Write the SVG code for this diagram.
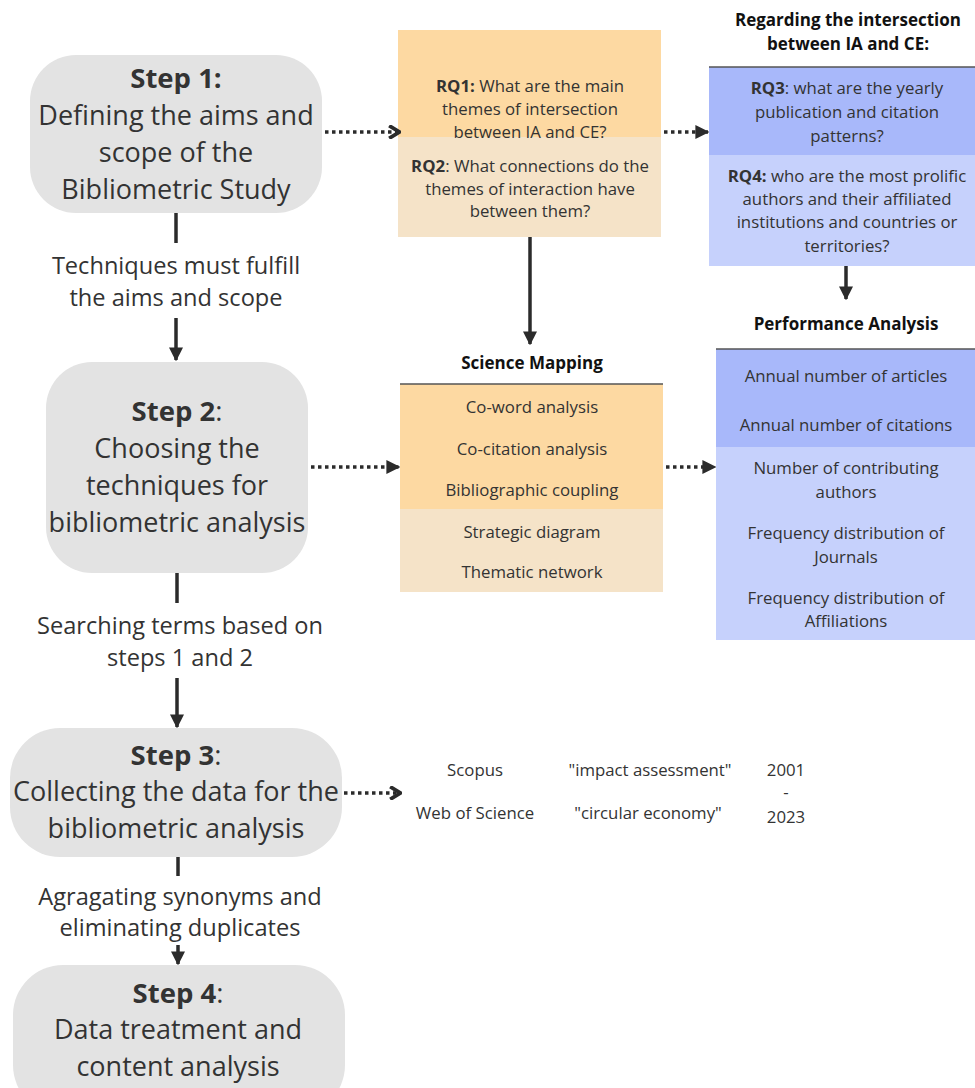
<svg xmlns="http://www.w3.org/2000/svg" width="975" height="1088" viewBox="0 0 975 1088">
  <style>
    text { font-family: "Open Sans", "Liberation Sans", sans-serif; fill: #333333; text-anchor: middle; }
    .step { fill: #e3e3e3; }
    .big { font-size: 27px; }
    .ttl { font-size: 27.5px; }
    .lbl { font-size: 23.6px; }
    .sm { font-size: 16.8px; }
    .hd { font-size: 17px; font-weight: bold; fill: #111111; }
    .b { font-weight: bold; }
    .solid { stroke: #2b2b2b; stroke-width: 3.5; fill: none; }
    .dot { stroke: #2b2b2b; stroke-width: 3.5; fill: none; stroke-dasharray: 3.5 3.5; }
    .rule { stroke: #555555; stroke-width: 1.5; }
  </style>
  <defs>
    <marker id="tri" viewBox="0 0 10 10" refX="9" refY="5" markerWidth="4" markerHeight="4" orient="auto" markerUnits="strokeWidth">
      <path d="M0,0 L10,5 L0,10 z" fill="#2b2b2b"/>
    </marker>
    <marker id="chev" viewBox="0 0 10 10" refX="8" refY="5" markerWidth="3.6" markerHeight="4" orient="auto" markerUnits="strokeWidth">
      <path d="M1,0 L9,5 L1,10" fill="none" stroke="#2b2b2b" stroke-width="3"/>
    </marker>
  </defs>

  <rect width="975" height="1088" fill="#ffffff"/>

  <!-- Step 1 -->
  <g id="step1">
    <rect class="step" x="30" y="55" width="292" height="158" rx="46"/>
    <text class="ttl" x="176" y="88"><tspan class="b">Step 1:</tspan></text>
    <text class="big" x="176" y="125">Defining the aims and</text>
    <text class="big" x="176" y="162">scope of the</text>
    <text class="big" x="176" y="199">Bibliometric Study</text>
  </g>

  <!-- Step 2 -->
  <g id="step2">
    <rect class="step" x="46" y="362" width="262" height="211" rx="46"/>
    <text class="ttl" x="177" y="421"><tspan class="b">Step 2</tspan>:</text>
    <text class="big" x="177" y="458">Choosing the</text>
    <text class="big" x="177" y="495">techniques for</text>
    <text class="big" x="177" y="532">bibliometric analysis</text>
  </g>

  <!-- Step 3 -->
  <g id="step3">
    <rect class="step" x="10" y="728" width="332" height="129" rx="50"/>
    <text class="ttl" x="176" y="765"><tspan class="b">Step 3</tspan>:</text>
    <text class="big" x="176" y="801">Collecting the data for the</text>
    <text class="big" x="176" y="838">bibliometric analysis</text>
  </g>

  <!-- Step 4 -->
  <g id="step4">
    <rect class="step" x="13" y="965" width="332" height="150" rx="50"/>
    <text class="ttl" x="178" y="1003"><tspan class="b">Step 4</tspan>:</text>
    <text class="big" x="178" y="1039">Data treatment and</text>
    <text class="big" x="178" y="1076">content analysis</text>
  </g>

  <!-- Research questions 1 and 2 -->
  <g id="rq12">
    <rect x="398" y="30" width="263" height="107" fill="#fdd9a2"/>
    <rect x="398" y="137" width="263" height="100" fill="#f5e3c8"/>
    <text class="sm" x="530" y="92"><tspan class="b">RQ1:</tspan> What are the main</text>
    <text class="sm" x="530" y="115">themes of intersection</text>
    <text class="sm" x="530" y="138">between IA and CE?</text>
    <text class="sm" x="530" y="172"><tspan class="b">RQ2</tspan>: What connections do the</text>
    <text class="sm" x="530" y="195">themes of interaction have</text>
    <text class="sm" x="530" y="217">between them?</text>
  </g>

  <!-- Research questions 3 and 4 -->
  <g id="rq34">
    <text class="hd" x="848" y="26">Regarding the intersection</text>
    <text class="hd" x="848" y="50">between IA and CE:</text>
    <rect x="709" y="67" width="266" height="88" fill="#a8b8fa"/>
    <rect x="709" y="155" width="266" height="111" fill="#c6d1fc"/>
    <line class="rule" x1="709" y1="67" x2="975" y2="67"/>
    <text class="sm" x="847" y="94"><tspan class="b">RQ3</tspan>: what are the yearly</text>
    <text class="sm" x="847" y="118">publication and citation</text>
    <text class="sm" x="847" y="142">patterns?</text>
    <text class="sm" x="847" y="182"><tspan class="b">RQ4:</tspan> who are the most prolific</text>
    <text class="sm" x="847" y="205">authors and their affiliated</text>
    <text class="sm" x="847" y="228">institutions and countries or</text>
    <text class="sm" x="847" y="252">territories?</text>
  </g>

  <!-- Science mapping -->
  <g id="science-mapping">
    <text class="hd" x="532" y="369">Science Mapping</text>
    <rect x="400" y="384" width="263" height="125" fill="#fdd9a2"/>
    <rect x="400" y="509" width="263" height="83" fill="#f5e3c8"/>
    <line class="rule" x1="400" y1="384" x2="663" y2="384"/>
    <text class="sm" x="532" y="413">Co-word analysis</text>
    <text class="sm" x="532" y="455">Co-citation analysis</text>
    <text class="sm" x="532" y="496">Bibliographic coupling</text>
    <text class="sm" x="532" y="538">Strategic diagram</text>
    <text class="sm" x="532" y="578">Thematic network</text>
  </g>

  <!-- Performance analysis -->
  <g id="performance-analysis">
    <text class="hd" x="846" y="330">Performance Analysis</text>
    <rect x="716" y="349" width="259" height="98" fill="#a8b8fa"/>
    <rect x="716" y="447" width="259" height="193" fill="#c6d1fc"/>
    <line class="rule" x1="716" y1="349" x2="975" y2="349"/>
    <text class="sm" x="846" y="382">Annual number of articles</text>
    <text class="sm" x="846" y="431">Annual number of citations</text>
    <text class="sm" x="846" y="474">Number of contributing</text>
    <text class="sm" x="846" y="498">authors</text>
    <text class="sm" x="846" y="539">Frequency distribution of</text>
    <text class="sm" x="846" y="563">Journals</text>
    <text class="sm" x="846" y="604">Frequency distribution of</text>
    <text class="sm" x="846" y="627">Affiliations</text>
  </g>

  <!-- Data sources -->
  <g id="sources">
    <text class="sm" x="475" y="776">Scopus</text>
    <text class="sm" x="475" y="819">Web of Science</text>
    <text class="sm" x="650" y="776">"impact assessment"</text>
    <text class="sm" x="648" y="819">"circular economy"</text>
    <text class="sm" x="786" y="776">2001</text>
    <text class="sm" x="786" y="798">-</text>
    <text class="sm" x="786" y="823">2023</text>
  </g>

  <!-- Step labels -->
  <g id="labels">
    <text class="lbl" x="176" y="274">Techniques must fulfill</text>
    <text class="lbl" x="176" y="306">the aims and scope</text>
    <text class="lbl" x="180" y="634">Searching terms based on</text>
    <text class="lbl" x="180" y="666">steps 1 and 2</text>
    <text class="lbl" x="180" y="905">Agragating synonyms and</text>
    <text class="lbl" x="180" y="936">eliminating duplicates</text>
  </g>

  <!-- Connectors -->
  <g id="connectors">
    <line class="solid" x1="176" y1="213" x2="176" y2="243"/>
    <line class="solid" x1="176" y1="318" x2="176" y2="360" marker-end="url(#tri)"/>
    <line class="solid" x1="177" y1="573" x2="177" y2="603"/>
    <line class="solid" x1="177" y1="678" x2="177" y2="727" marker-end="url(#tri)"/>
    <line class="solid" x1="178" y1="857" x2="178" y2="876"/>
    <line class="solid" x1="178" y1="945" x2="178" y2="964" marker-end="url(#tri)"/>
    <line class="solid" x1="530" y1="237" x2="530" y2="344" marker-end="url(#tri)"/>
    <line class="solid" x1="846" y1="266" x2="846" y2="299" marker-end="url(#tri)"/>
    <line class="dot" x1="325" y1="132" x2="398" y2="132" marker-end="url(#chev)"/>
    <line class="dot" x1="664" y1="132" x2="708" y2="132" marker-end="url(#tri)"/>
    <line class="dot" x1="311" y1="467" x2="399" y2="467" marker-end="url(#tri)"/>
    <line class="dot" x1="666" y1="467" x2="715" y2="467" marker-end="url(#tri)"/>
    <line class="dot" x1="344" y1="793" x2="399" y2="793" marker-end="url(#chev)"/>
  </g>
</svg>
